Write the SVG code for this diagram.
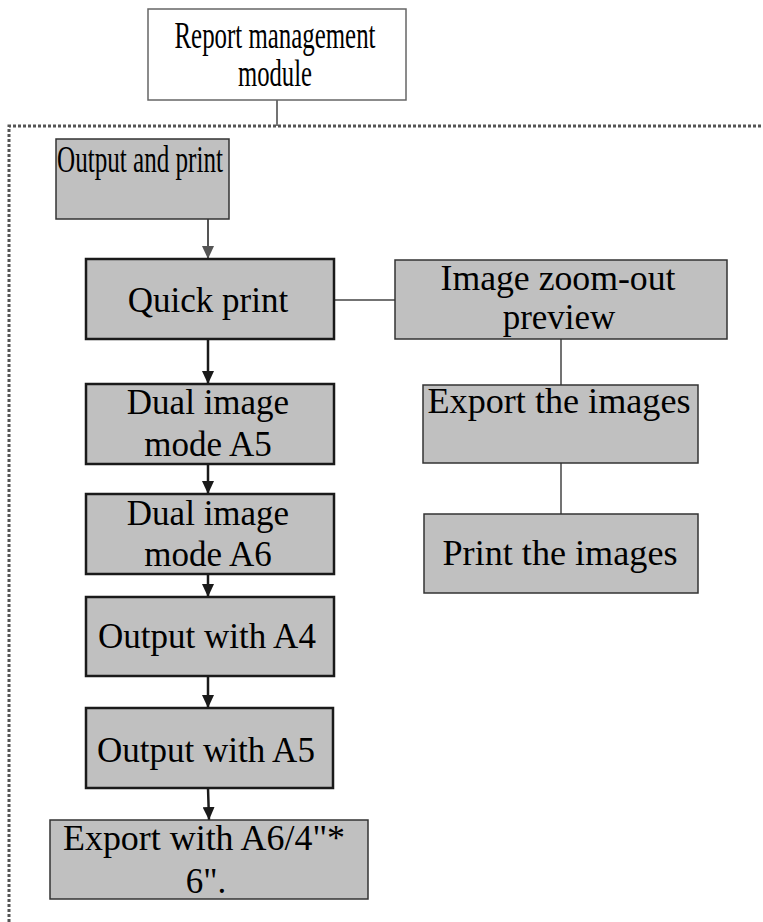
<svg xmlns="http://www.w3.org/2000/svg" width="763" height="922" viewBox="0 0 763 922">
  <style>
    text { font-family: "Liberation Serif", "Times New Roman", serif; font-size: 35px; fill: #000; text-anchor: middle; }
    .tall { font-size: 37px; }
    .box { fill: #c0c0c0; stroke: #333; stroke-width: 1.5; }
    .chain { fill: #c0c0c0; stroke: #1a1a1a; stroke-width: 2.5; }
    .top { fill: #fff; stroke: #666; stroke-width: 1.5; }
    .link { fill: none; stroke: #444; stroke-width: 1.5; }
    .flow { fill: none; stroke: #1a1a1a; stroke-width: 2.5; marker-end: url(#arrowDark); }
    .flowGray { fill: none; stroke: #555; stroke-width: 2; marker-end: url(#arrowGray); }
    .frame { fill: none; stroke: #555; stroke-width: 3; stroke-dasharray: 3 2; }
  </style>
  <defs>
    <marker id="arrowDark" markerUnits="userSpaceOnUse" markerWidth="13" markerHeight="12" refX="13" refY="6" orient="auto">
      <path d="M0,0 L13,6 L0,12 Z" fill="#1a1a1a"/>
    </marker>
    <marker id="arrowGray" markerUnits="userSpaceOnUse" markerWidth="13" markerHeight="12" refX="13" refY="6" orient="auto">
      <path d="M0,0 L13,6 L0,12 Z" fill="#555"/>
    </marker>
  </defs>

  <!-- module frame -->
  <path class="frame" d="M9,922 V126 H763"/>

  <g id="connectors">
    <line class="link" x1="277" y1="100" x2="277" y2="126"/>
    <line class="flowGray" x1="208" y1="219" x2="208" y2="259"/>
    <line class="flow" x1="208" y1="339" x2="208" y2="384"/>
    <line class="flow" x1="208" y1="464" x2="208" y2="494"/>
    <line class="flow" x1="208" y1="574" x2="208" y2="597"/>
    <line class="flow" x1="208" y1="676" x2="208" y2="708"/>
    <line class="flow" x1="208" y1="788" x2="209" y2="820"/>
    <line class="link" x1="334" y1="300" x2="395" y2="300"/>
    <line class="link" x1="561" y1="339" x2="561" y2="385"/>
    <line class="link" x1="561" y1="463" x2="561" y2="514"/>
  </g>

  <g id="report-management">
    <rect class="top" x="148" y="9" width="258" height="91"/>
    <text class="tall" x="275" y="48" textLength="201" lengthAdjust="spacingAndGlyphs">Report management</text>
    <text class="tall" x="275" y="86" textLength="74" lengthAdjust="spacingAndGlyphs">module</text>
  </g>

  <g id="output-print">
    <rect class="box" x="56" y="139" width="173" height="80"/>
    <text class="tall" x="140" y="172" textLength="166" lengthAdjust="spacingAndGlyphs">Output and print</text>
  </g>

  <g id="quick-print">
    <rect class="chain" x="86" y="259" width="248" height="80"/>
    <text x="208" y="312">Quick print</text>
  </g>

  <g id="dual-a5">
    <rect class="chain" x="86" y="384" width="248" height="80"/>
    <text x="208" y="414">Dual image</text>
    <text x="208" y="456">mode A5</text>
  </g>

  <g id="dual-a6">
    <rect class="chain" x="86" y="494" width="248" height="80"/>
    <text x="208" y="525">Dual image</text>
    <text x="208" y="566">mode A6</text>
  </g>

  <g id="output-a4">
    <rect class="chain" x="86" y="597" width="248" height="79"/>
    <text x="207" y="648">Output with A4</text>
  </g>

  <g id="output-a5">
    <rect class="chain" x="86" y="708" width="247" height="80"/>
    <text x="206" y="762">Output with A5</text>
  </g>

  <g id="export-a6">
    <rect class="box" x="50" y="820" width="318" height="79"/>
    <text x="204" y="850" textLength="282" lengthAdjust="spacingAndGlyphs">Export with A6/4"*</text>
    <text x="206" y="893">6".</text>
  </g>

  <g id="zoom-preview">
    <rect class="box" x="395" y="260" width="332" height="79"/>
    <text x="558" y="290" textLength="235" lengthAdjust="spacingAndGlyphs">Image zoom-out</text>
    <text x="559" y="329">preview</text>
  </g>

  <g id="export-images">
    <rect class="box" x="423" y="385" width="275" height="78"/>
    <text x="559" y="413" textLength="263" lengthAdjust="spacingAndGlyphs">Export the images</text>
  </g>

  <g id="print-images">
    <rect class="box" x="424" y="514" width="274" height="79"/>
    <text x="560" y="565" textLength="235" lengthAdjust="spacingAndGlyphs">Print the images</text>
  </g>
</svg>
